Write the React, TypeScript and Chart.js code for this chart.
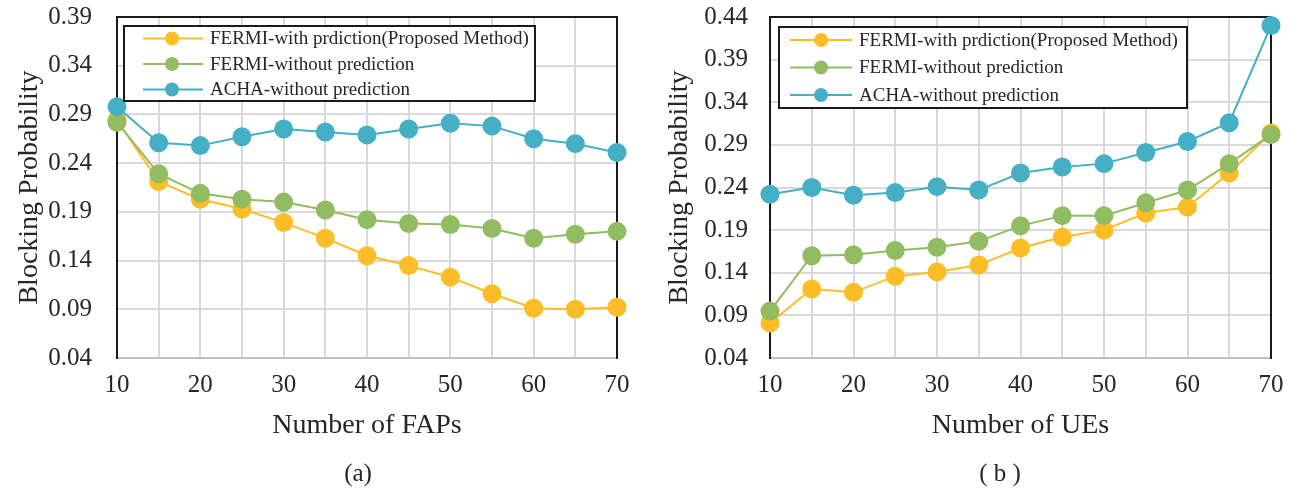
import React, { useEffect, useRef } from 'react';
import { Chart, registerables } from 'chart.js';

Chart.register(...registerables);

// ---------- data ----------
const xValues = [10, 15, 20, 25, 30, 35, 40, 45, 50, 55, 60, 65, 70];
const seriesNames = [
  'FERMI-with prdiction(Proposed Method)',
  'FERMI-without prediction',
  'ACHA-without prediction',
];
const seriesColors = ['#FDBD26', '#92BC61', '#45AFC6'];

// (a) Number of FAPs
const fapWithPrediction = [0.284, 0.221, 0.203, 0.193, 0.179, 0.163, 0.145, 0.135, 0.123, 0.106, 0.091, 0.090, 0.092];
const fapFermiWithout = [0.282, 0.229, 0.209, 0.203, 0.200, 0.192, 0.182, 0.178, 0.177, 0.173, 0.163, 0.167, 0.170];
const fapAchaWithout = [0.298, 0.261, 0.258, 0.267, 0.275, 0.272, 0.269, 0.275, 0.281, 0.278, 0.265, 0.260, 0.251];
const yTicksFap = [0.04, 0.09, 0.14, 0.19, 0.24, 0.29, 0.34, 0.39];

// (b) Number of UEs
const ueWithPrediction = [0.081, 0.121, 0.117, 0.136, 0.141, 0.149, 0.169, 0.182, 0.190, 0.210, 0.217, 0.257, 0.304];
const ueFermiWithout = [0.095, 0.160, 0.161, 0.166, 0.170, 0.177, 0.195, 0.207, 0.207, 0.222, 0.237, 0.268, 0.302];
const ueAchaWithout = [0.232, 0.240, 0.231, 0.234, 0.241, 0.237, 0.257, 0.264, 0.268, 0.281, 0.294, 0.316, 0.430];
const yTicksUe = [0.04, 0.09, 0.14, 0.19, 0.24, 0.29, 0.34, 0.39, 0.44];

const xTickValues = [10, 15, 20, 25, 30, 35, 40, 45, 50, 55, 60, 65, 70];
const xLabelled = [10, 20, 30, 40, 50, 60, 70];

const FONT = "'Liberation Serif', 'DejaVu Serif', serif";
const TEXT = '#262626';

const framePlugin = {
  id: 'frame',
  beforeDatasetsDraw(chart: any) {
    const { ctx, chartArea } = chart;
    const { left, right, top, bottom } = chartArea;
    ctx.save();
    ctx.lineWidth = 2;
    ctx.strokeStyle = '#bfbfbf';
    ctx.beginPath();
    ctx.moveTo(left, bottom);
    ctx.lineTo(right, bottom);
    ctx.stroke();
    ctx.strokeStyle = '#1a1a1a';
    ctx.beginPath();
    ctx.moveTo(left, bottom + 1);
    ctx.lineTo(left, top);
    ctx.lineTo(right, top);
    ctx.lineTo(right, bottom + 1);
    ctx.stroke();
    ctx.restore();
  },
  afterDatasetsDraw(chart: any, _args: any, opts: any) {
    const lg = opts && opts.legend;
    if (!lg) return;
    const { ctx } = chart;
    ctx.save();
    ctx.fillStyle = '#ffffff';
    ctx.fillRect(lg.x, lg.y, lg.w, lg.h);
    ctx.lineWidth = 2;
    ctx.strokeStyle = '#1a1a1a';
    ctx.strokeRect(lg.x, lg.y, lg.w, lg.h);
    chart.data.datasets.forEach((ds: any, i: number) => {
      const y = lg.rows[i];
      ctx.strokeStyle = ds.borderColor;
      ctx.lineWidth = 2;
      ctx.beginPath();
      ctx.moveTo(lg.lineX1, y);
      ctx.lineTo(lg.lineX2, y);
      ctx.stroke();
      ctx.fillStyle = ds.backgroundColor;
      ctx.beginPath();
      ctx.arc(lg.markerX, y, 7, 0, Math.PI * 2);
      ctx.fill();
      ctx.fillStyle = TEXT;
      ctx.font = `${lg.fontSize}px ${FONT}`;
      ctx.textBaseline = 'middle';
      ctx.textAlign = 'left';
      ctx.fillText(ds.label, lg.textX, y + 1);
    });
    ctx.restore();
  },
};

type Props = {
  canvasLeft: number;
  canvasWidth: number;
  areaLeft: number;
  areaRight: number;
  yTicks: number[];
  values: number[][];
  xTitle: string;
  yTitlePad: number;
  yTickPad: number;
  legend: any;
};

function BlockingChart(p: Props) {
  const ref = useRef<HTMLCanvasElement | null>(null);
  useEffect(() => {
    if (!ref.current) return;
    const H = 491;
    const areaTop = 17;
    const areaBottom = 358;
    const yMin = p.yTicks[0];
    const yMax = p.yTicks[p.yTicks.length - 1];
    const chart = new Chart(ref.current, {
      type: 'line',
      data: {
        datasets: p.values.map((vals, i) => ({
          label: seriesNames[i],
          data: xValues.map((x, j) => ({ x, y: vals[j] })),
          borderColor: seriesColors[i],
          backgroundColor: seriesColors[i],
          pointBackgroundColor: seriesColors[i],
          pointBorderWidth: 0,
          pointRadius: 9.5,
          borderWidth: 2,
          tension: 0,
          clip: false as any,
          order: 3 - i,
        })),
      },
      options: {
        responsive: false,
        animation: false,
        events: [],
        layout: {
          padding: { top: areaTop, right: p.canvasWidth - p.areaRight, left: 0, bottom: 0 },
        },
        plugins: {
          legend: { display: false },
          tooltip: { enabled: false },
          frame: { legend: p.legend },
        } as any,
        scales: {
          x: {
            type: 'linear',
            min: 10,
            max: 70,
            afterFit: (s: any) => {
              s.height = H - areaBottom;
            },
            afterBuildTicks: (s: any) => {
              s.ticks = xTickValues.map((v) => ({ value: v }));
            },
            ticks: {
              autoSkip: false,
              maxRotation: 0,
              padding: 0,
              color: TEXT,
              font: { family: FONT, size: 25 },
              callback: (v: any) => (xLabelled.includes(Number(v)) ? String(v) : ''),
            },
            grid: { color: '#d9d9d9', lineWidth: 2, drawTicks: true, tickLength: 12, tickColor: 'rgba(0,0,0,0)' },
            border: { display: false },
            title: {
              display: true,
              text: p.xTitle,
              color: TEXT,
              font: { family: FONT, size: 28 },
              padding: { top: 0, bottom: 49 },
            },
          },
          y: {
            type: 'linear',
            min: yMin,
            max: yMax,
            afterFit: (s: any) => {
              s.width = p.areaLeft;
            },
            afterBuildTicks: (s: any) => {
              s.ticks = p.yTicks.map((v) => ({ value: v }));
            },
            ticks: {
              padding: 0,
              color: TEXT,
              font: { family: FONT, size: 25 },
              callback: (v: any) => Number(v).toFixed(2),
            },
            grid: { color: '#d9d9d9', lineWidth: 2, drawTicks: true, tickLength: p.yTickPad, tickColor: 'rgba(0,0,0,0)' },
            border: { display: false },
            title: {
              display: true,
              text: 'Blocking Probability',
              color: TEXT,
              font: { family: FONT, size: 28 },
              padding: { top: p.yTitlePad, bottom: 0 },
            },
          },
        },
      },
      plugins: [framePlugin],
    });
    // nudge the plot area to the wanted box (rounding)
    for (let k = 0; k < 3; k++) {
      const ca = chart.chartArea;
      const pad: any = (chart.config.options as any).layout.padding;
      const dTop = areaTop - ca.top;
      const dRight = ca.right - p.areaRight;
      if (Math.abs(dTop) < 0.5 && Math.abs(dRight) < 0.5) break;
      (chart.config.options as any).layout.padding = {
        top: pad.top + dTop,
        right: pad.right + dRight,
        left: pad.left,
        bottom: pad.bottom,
      };
      chart.update();
    }
    return () => chart.destroy();
  }, []);
  return (
    <canvas
      ref={ref}
      width={p.canvasWidth}
      height={491}
      style={{ position: 'absolute', left: p.canvasLeft, top: 0, width: p.canvasWidth, height: 491 }}
    />
  );
}

export default function App() {
  const captionStyle: React.CSSProperties = {
    position: 'absolute',
    top: 458,
    fontFamily: FONT,
    fontSize: 25,
    color: TEXT,
    lineHeight: '30px',
    transform: 'translateX(-50%)',
    whiteSpace: 'pre',
  };
  return (
    <div style={{ position: 'absolute', left: 0, top: 0, width: 1291, height: 491, background: '#fff', overflow: 'hidden' }}>
      <BlockingChart
        canvasLeft={0}
        canvasWidth={645}
        areaLeft={117}
        areaRight={617}
        yTicks={yTicksFap}
        values={[fapWithPrediction, fapFermiWithout, fapAchaWithout]}
        xTitle="Number of FAPs"
        yTitlePad={13}
        yTickPad={25}
        legend={{ x: 124, y: 26, w: 411, h: 75, rows: [38.5, 64, 89.5], lineX1: 143, lineX2: 203, markerX: 172, textX: 210, fontSize: 19 }}
      />
      <BlockingChart
        canvasLeft={645}
        canvasWidth={646}
        areaLeft={125}
        areaRight={626}
        yTicks={yTicksUe}
        values={[ueWithPrediction, ueFermiWithout, ueAchaWithout]}
        xTitle="Number of UEs"
        yTitlePad={18}
        yTickPad={22}
        legend={{ x: 134, y: 27, w: 408, h: 81, rows: [40, 67.5, 95], lineX1: 145, lineX2: 207, markerX: 176, textX: 214, fontSize: 19 }}
      />
      <div style={{ ...captionStyle, left: 358 }}>(a)</div>
      <div style={{ ...captionStyle, left: 1000 }}>( b )</div>
    </div>
  );
}
